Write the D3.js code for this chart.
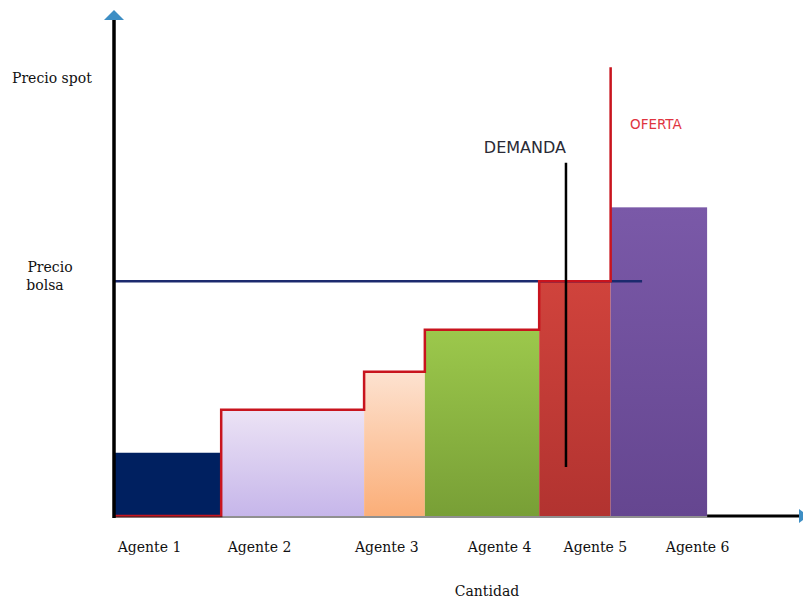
<!DOCTYPE html>
<html>
<head>
<meta charset="utf-8">
<script src="https://cdn.jsdelivr.net/npm/d3@7"></script>
<style>
  body { margin: 0; background: #fff; }
  svg { display: block; }
</style>
</head>
<body>
<svg id="chart" width="803" height="602"></svg>
<script>
// agents in merit order: offered quantity and offered price
const agents = ['Agente 1', 'Agente 2', 'Agente 3', 'Agente 4', 'Agente 5', 'Agente 6'];
const quantities = [15, 20, 8.5, 16, 10, 13.5];
const prices = [12.5, 21, 28.5, 36.8, 46.4, 61];
const colorsTop = ['#002060', '#ece3f5', '#fde2d0', '#9cc84c', '#d0433c', '#7a59a8'];
const colorsBottom = ['#002060', '#c6b6ea', '#fbae78', '#789f36', '#b23330', '#654690'];
// where each agent label sits along the quantity axis
const labelAt = [4.9, 20.3, 38.1, 53.9, 67.3, 81.6];

const precioBolsa = 46.4;
const ofertaTop = 88.7;
const demanda = { q: 63.25, p0: 9.7, p1: 69.8 };
const bolsaEnd = 73.9;

const svg = d3.select('#chart');

const x = d3.scaleLinear().domain([0, 96]).range([114, 800]);
const y = d3.scaleLinear().domain([0, 100]).range([516, 10]);

// cumulative quantity bounds
let acc = 0;
const bars = agents.map((name, i) => {
    const d = { name: name, q0: acc, q1: acc + quantities[i], p: prices[i], i: i };
    acc += quantities[i];
    return d;
});

const defs = svg.append('defs');
bars.forEach(d => {
    const gr = defs.append('linearGradient')
        .attr('id', 'grad' + d.i)
        .attr('x1', 0).attr('y1', 0).attr('x2', 0).attr('y2', 1);
    gr.append('stop').attr('offset', '0%').attr('stop-color', colorsTop[d.i]);
    gr.append('stop').attr('offset', '100%').attr('stop-color', colorsBottom[d.i]);
});

svg.selectAll('rect.bar')
    .data(bars)
    .enter().append('rect')
    .attr('class', 'bar')
    .attr('x', d => x(d.q0))
    .attr('y', d => y(d.p))
    .attr('width', d => x(d.q1) - x(d.q0))
    .attr('height', d => y(0) - y(d.p))
    .style('fill', d => 'url(#grad' + d.i + ')');

// precio de bolsa
svg.append('line')
    .attr('x1', x(0)).attr('x2', x(bolsaEnd))
    .attr('y1', y(precioBolsa)).attr('y2', y(precioBolsa))
    .style('stroke', '#1c2a6e')
    .style('stroke-width', 2.5);

// offer curve as a step line, stopping before the last agent
const stepPts = [];
bars.slice(0, 5).forEach(d => {
    const p = d.i === 0 ? 0 : d.p;
    stepPts.push([d.q0, p]);
    stepPts.push([d.q1, p]);
});
stepPts.push([bars[4].q1, ofertaTop]);

svg.append('path')
    .datum(stepPts)
    .attr('d', d3.line().x(d => x(d[0])).y(d => y(d[1])))
    .style('fill', 'none')
    .style('stroke', '#c8141e')
    .style('stroke-width', 2.5);

// demand line
svg.append('line')
    .attr('x1', x(demanda.q)).attr('x2', x(demanda.q))
    .attr('y1', y(demanda.p0)).attr('y2', y(demanda.p1))
    .style('stroke', '#000')
    .style('stroke-width', 2.5);

// axes
const xAxis = d3.axisBottom(x)
    .tickValues(labelAt)
    .tickFormat((d, i) => agents[i])
    .tickSize(0)
    .tickPadding(26);

const xAxisG = svg.append('g')
    .attr('transform', 'translate(0,' + y(0) + ')')
    .call(xAxis);
xAxisG.select('.domain').remove();
xAxisG.selectAll('text')
    .style('font-family', 'DejaVu Serif')
    .style('font-size', '14px')
    .style('fill', '#111');

svg.append('line')
    .attr('x1', x(bars[5].q1)).attr('x2', x(96))
    .attr('y1', y(0)).attr('y2', y(0))
    .style('stroke', '#000').style('stroke-width', 3);
svg.append('line')
    .attr('x1', x(0)).attr('x2', x(bars[5].q1))
    .attr('y1', y(0) + 1).attr('y2', y(0) + 1)
    .style('stroke', '#222').style('stroke-width', 1.2);

svg.append('line')
    .attr('x1', x(0)).attr('x2', x(0))
    .attr('y1', y(0) + 2).attr('y2', y(98))
    .style('stroke', '#000').style('stroke-width', 3.5);

svg.append('path')
    .attr('d', 'M' + (x(0) - 10) + ',' + y(98) + 'L' + x(0) + ',' + y(100) + 'L' + (x(0) + 10) + ',' + y(98) + 'Z')
    .style('fill', '#3d8ec4');
svg.append('path')
    .attr('d', 'M' + (x(96) - 1) + ',' + (y(0) - 7) + 'L' + (x(96) + 8) + ',' + y(0) + 'L' + (x(96) - 1) + ',' + (y(0) + 7) + 'Z')
    .style('fill', '#3d8ec4');

// labels
const serif = 'DejaVu Serif';
svg.append('text')
    .attr('x', 12).attr('y', 83)
    .text('Precio spot')
    .style('font-family', serif).style('font-size', '14px').style('fill', '#111');

const bolsaLabel = svg.append('text')
    .attr('text-anchor', 'middle')
    .style('font-family', serif).style('font-size', '14px').style('fill', '#111');
bolsaLabel.selectAll('tspan')
    .data(['Precio', 'bolsa'])
    .enter().append('tspan')
    .attr('x', (d, i) => i === 0 ? 50 : 45)
    .attr('y', (d, i) => 272 + i * 18)
    .text(d => d);

svg.append('text')
    .attr('x', 487).attr('y', 596)
    .attr('text-anchor', 'middle')
    .text('Cantidad')
    .style('font-family', serif).style('font-size', '14px').style('fill', '#111');

svg.append('text')
    .attr('x', 566).attr('y', 153)
    .attr('text-anchor', 'end')
    .text('DEMANDA')
    .style('font-family', 'DejaVu Sans').style('font-size', '16px').style('fill', '#2a2a35');

svg.append('text')
    .attr('x', 630).attr('y', 129)
    .text('OFERTA')
    .style('font-family', 'DejaVu Sans').style('font-size', '13.5px').style('fill', '#e03440');
</script>
</body>
</html>
